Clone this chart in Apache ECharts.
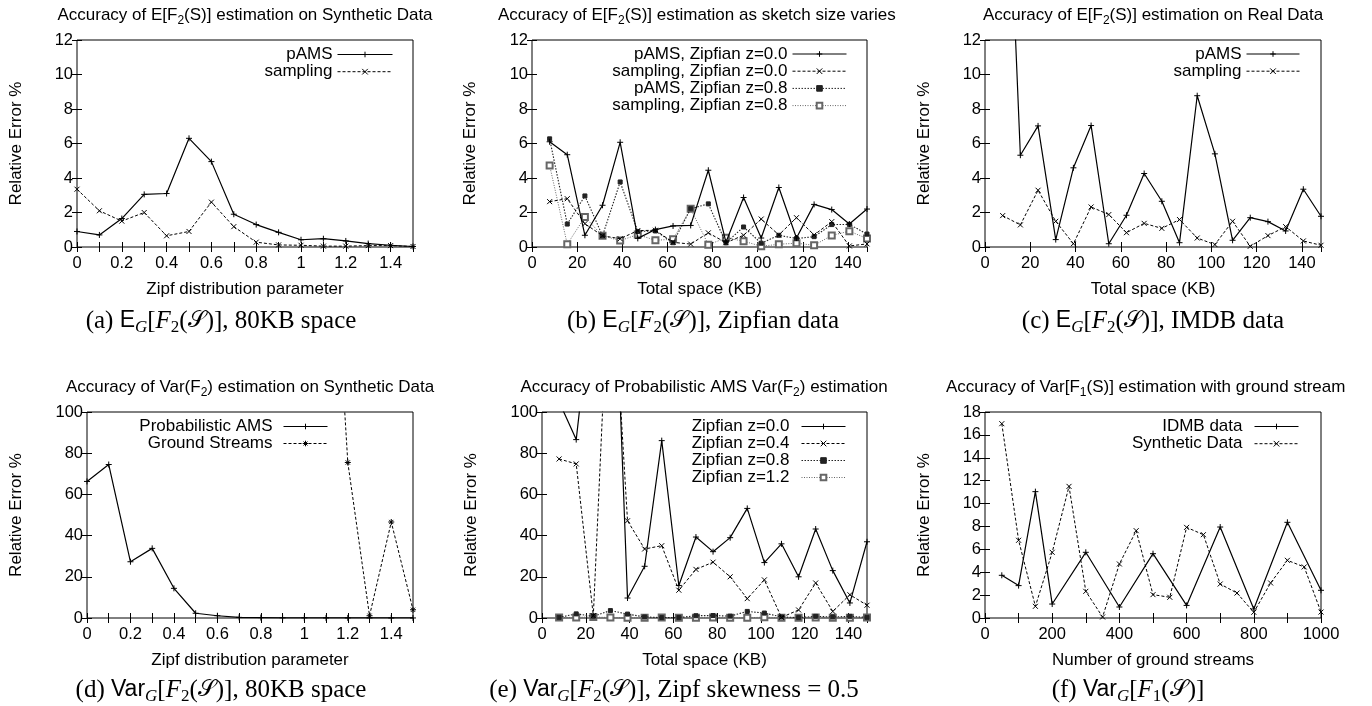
<!DOCTYPE html>
<html><head><meta charset="utf-8">
<script src="https://cdn.jsdelivr.net/npm/echarts@6/dist/echarts.min.js"></script>
<style>html,body{margin:0;padding:0;background:#fff}#c{width:1372px;height:706px}</style>
</head><body><div id="c"></div>
<script>
const SANS = '"Liberation Sans", Arial, Helvetica, sans-serif';
const SERIF = '"Liberation Serif", "Times New Roman", serif';

// ---------- data ----------
const zipfParam = [0, 0.1, 0.2, 0.3, 0.4, 0.5, 0.6, 0.7, 0.8, 0.9, 1.0, 1.1, 1.2, 1.3, 1.4, 1.5];
const spaceKB = [7.8125, 15.625, 23.4375, 31.25, 39.0625, 46.875, 54.6875, 62.5, 70.3125, 78.125,
                 85.9375, 93.75, 101.5625, 109.375, 117.1875, 125, 132.8125, 140.625, 148.4375];

// (a)
const aPAMS     = [0.9, 0.7, 1.65, 3.05, 3.1, 6.3, 4.95, 1.9, 1.3, 0.85, 0.42, 0.48, 0.35, 0.2, 0.1, 0.03];
const aSampling = [3.35, 2.1, 1.5, 2.0, 0.65, 0.9, 2.6, 1.18, 0.28, 0.12, 0.1, 0.05, 0.05, 0.08, 0.08, 0.03];
// (b)
const bPAMS00     = [6.1, 5.35, 0.68, 2.42, 6.07, 0.5, 1.01, 1.22, 1.25, 4.45, 0.28, 2.87, 0.52, 3.45, 0.52, 2.47, 2.17, 1.33, 2.2];
const bSampling00 = [2.63, 2.8, 1.35, 0.65, 0.48, 0.95, 0.97, 0.27, 0.17, 0.82, 0.25, 0.68, 1.62, 0.7, 1.7, 0.7, 1.47, 0.06, 0.18];
const bPAMS08     = [6.27, 1.33, 2.96, 0.65, 3.77, 0.9, 0.93, 0.25, 2.22, 2.5, 0.24, 1.16, 0.22, 0.68, 0.49, 0.6, 1.3, 1.31, 0.75];
const bSampling08 = [4.73, 0.16, 1.74, 0.65, 0.37, 0.72, 0.39, 0.45, 2.22, 0.13, 0.53, 0.34, 0.04, 0.16, 0.22, 0.1, 0.67, 0.92, 0.49];
// (c)
const cPAMS     = [30, 5.32, 7.02, 0.43, 4.59, 7.04, 0.19, 1.84, 4.26, 2.65, 0.25, 8.77, 5.4, 0.39, 1.7, 1.47, 0.93, 3.35, 1.78];
const cSampling = [1.82, 1.28, 3.29, 1.49, 0.19, 2.32, 1.88, 0.83, 1.37, 1.08, 1.59, 0.52, 0.14, 1.49, 0.04, 0.66, 1.18, 0.35, 0.1];
// (d)
const dProbAMS = [66.3, 74.5, 27.3, 33.8, 14.4, 2.3, 1.1, 0.3, 0.2, 0.1, 0.1, 0.05, 0.05, 0.03, 0.02, 0.02];
const dGroundX = [1.1, 1.2, 1.3, 1.4, 1.5];
const dGround  = [250, 75.5, 1.1, 46.6, 4];
// (e)
const eZ00 = [105, 86.6, 160, 230, 9.7, 25.1, 86.1, 15.8, 39.3, 32.2, 39, 53.2, 26.9, 36, 20, 43.2, 23, 7.3, 37];
const eZ04 = [77.2, 74.8, 1.1, 185, 47.2, 33.5, 35.1, 13.5, 23.6, 27.1, 20, 9.4, 18.5, 0.3, 3.9, 17, 3.2, 11.3, 6.2];
const eZ08 = [0.3, 2.0, 0.8, 3.6, 1.9, 0.5, 0.2, 0.2, 1.1, 1.2, 0.9, 3.2, 2.4, 0.5, 0.2, 0.8, 0.5, 0.8, 0.3];
const eZ12 = [0.2, 0.3, 0.5, 0.2, 0.1, 0.1, 0.2, 0.1, 0.1, 0.2, 0.1, 0.1, 0.4, 0.1, 0.1, 0.2, 0.1, 0.1, 0.2];
// (f)
const fIdmbX = [50, 100, 150, 200, 300, 400, 500, 600, 700, 800, 900, 1000];
const fIdmb  = [3.73, 2.83, 11.04, 1.22, 5.74, 0.96, 5.62, 1.1, 7.95, 0.79, 8.36, 2.42];
const fSynX  = [50, 100, 150, 200, 250, 300, 350, 400, 450, 500, 550, 600, 650, 700, 750, 800, 850, 900, 950, 1000];
const fSyn   = [16.98, 6.79, 1.02, 5.74, 11.5, 2.33, 0.09, 4.72, 7.63, 2.04, 1.81, 7.92, 7.28, 2.97, 2.18, 0.5, 3.06, 5.04, 4.46, 0.52];

// ---------- styles ----------
const PLUS = 'path://M0,5L10,5M5,0L5,10';
const CROSS = 'path://M0,0L10,10M10,0L0,10';
const STAR = 'path://M0,5L10,5M5,0L5,10M1.5,1.5L8.5,8.5M8.5,1.5L1.5,8.5';
const ST = {
  solid:  {symbol: PLUS,  size: 6, color: '#000', type: 'solid', width: 1.2},
  dashed: {symbol: CROSS, size: 5, color: '#000', type: [3, 2], width: 1},
  dashedStar: {symbol: STAR, size: 6, color: '#000', type: [3, 2], width: 1},
  dotted: {symbol: 'rect', size: 4, color: '#222', type: [1.5, 1.5], width: 1.1},
  gray:   {symbol: 'emptyRect', size: 6, color: '#666', type: [1, 1.5], width: 1}
};

function ser(name, gi, xs, ys, st, z) {
  return {
    type: 'line', name, xAxisIndex: gi * 2, yAxisIndex: gi * 2,
    data: xs.map((x, i) => [x, ys[i]]),
    symbol: st.symbol, symbolSize: st.size, showSymbol: true, showAllSymbol: true,
    lineStyle: {color: st.color, width: st.width, type: st.type},
    itemStyle: {color: st.symbol.indexOf('path') === 0 ? 'transparent' : st.color, borderColor: st.color, borderWidth: 1},
    emphasis: {disabled: true}, animation: false, clip: true, z: z || 2
  };
}

const grids = [
  {left: 77, top: 40, width: 336, height: 207},
  {left: 532, top: 40, width: 335, height: 207},
  {left: 985, top: 40, width: 336, height: 207},
  {left: 87, top: 412, width: 326, height: 206},
  {left: 542, top: 412, width: 325, height: 206},
  {left: 985, top: 412, width: 336, height: 206}
].map(g => Object.assign({show: true, borderColor: '#000', borderWidth: 1, backgroundColor: 'transparent', containLabel: false, outerBoundsMode: 'none'}, g));

const tickCfg = {show: true, inside: true, length: 5, lineStyle: {color: '#000', width: 1}};
const zipfFmt = v => (Math.round(v * 10) % 2 === 0 ? String(Math.round(v * 10) / 10) : '');
const kbFmt = v => String(v);
const gsFmt = v => (Math.round(v) % 200 === 0 ? String(Math.round(v)) : '');

function xPair(gi, min, max, interval, fmt, name, showMax) {
  const base = {type: 'value', gridIndex: gi, min, max, interval, axisLine: {show: false}, axisTick: tickCfg, splitLine: {show: false}};
  return [
    Object.assign({}, base, {position: 'bottom', name, nameLocation: 'middle', nameGap: 34,
      nameTextStyle: {color: '#000', fontSize: 17, fontFamily: SANS},
      axisLabel: {margin: 8, formatter: fmt, showMaxLabel: showMax, showMinLabel: true, color: '#000', fontSize: 16.5, fontFamily: SANS}}),
    Object.assign({}, base, {position: 'top', axisLabel: {show: false}})
  ];
}
function yPair(gi, min, max, interval, gap) {
  const base = {type: 'value', gridIndex: gi, min, max, interval, axisLine: {show: false}, axisTick: tickCfg, splitLine: {show: false}};
  return [
    Object.assign({}, base, {position: 'left', name: 'Relative Error %', nameLocation: 'middle', nameGap: gap,
      nameTextStyle: {color: '#000', fontSize: 17, fontFamily: SANS},
      axisLabel: {margin: 4, color: '#000', fontSize: 16.5, fontFamily: SANS}}),
    Object.assign({}, base, {position: 'right', axisLabel: {show: false}})
  ];
}

const xAxis = [].concat(
  xPair(0, 0, 1.5, 0.1, zipfFmt, 'Zipf distribution parameter', false),
  xPair(1, 0, 148.4375, 20, kbFmt, 'Total space (KB)', false),
  xPair(2, 0, 148.4375, 20, kbFmt, 'Total space (KB)', false),
  xPair(3, 0, 1.5, 0.1, zipfFmt, 'Zipf distribution parameter', false),
  xPair(4, 0, 148.4375, 20, kbFmt, 'Total space (KB)', false),
  xPair(5, 0, 1000, 100, gsFmt, 'Number of ground streams', true)
);
const yAxis = [].concat(
  yPair(0, 0, 12, 2, 52),
  yPair(1, 0, 12, 2, 53),
  yPair(2, 0, 12, 2, 52),
  yPair(3, 0, 100, 20, 62),
  yPair(4, 0, 100, 20, 62),
  yPair(5, 0, 18, 2, 52)
);

const series = [
  ser('pAMS', 0, zipfParam, aPAMS, ST.solid, 3),
  ser('sampling', 0, zipfParam, aSampling, ST.dashed),
  ser('pAMS, Zipfian z=0.0', 1, spaceKB, bPAMS00, ST.solid, 4),
  ser('sampling, Zipfian z=0.0', 1, spaceKB, bSampling00, ST.dashed, 3),
  ser('pAMS, Zipfian z=0.8', 1, spaceKB, bPAMS08, ST.dotted, 2),
  ser('sampling, Zipfian z=0.8', 1, spaceKB, bSampling08, ST.gray, 1),
  ser('pAMS', 2, spaceKB, cPAMS, ST.solid, 3),
  ser('sampling', 2, spaceKB, cSampling, ST.dashed),
  ser('Probabilistic AMS', 3, zipfParam, dProbAMS, ST.solid, 3),
  ser('Ground Streams', 3, dGroundX, dGround, ST.dashedStar),
  ser('Zipfian z=0.0', 4, spaceKB, eZ00, ST.solid, 4),
  ser('Zipfian z=0.4', 4, spaceKB, eZ04, ST.dashed, 3),
  ser('Zipfian z=0.8', 4, spaceKB, eZ08, ST.dotted, 2),
  ser('Zipfian z=1.2', 4, spaceKB, eZ12, ST.gray, 1),
  ser('IDMB data', 5, fIdmbX, fIdmb, ST.solid, 3),
  ser('Synthetic Data', 5, fSynX, fSyn, ST.dashed)
];

function leg(names, right, top, itemWidth, itemGap, padR) {
  return {show: true, data: names, orient: 'vertical', align: 'right', right, top, itemWidth, itemHeight: 7,
    itemGap, padding: 0, selectedMode: false,
    textStyle: {color: '#000', fontSize: 17, fontFamily: SANS, lineHeight: 14, padding: [0, padR, 0, 0]},
    lineStyle: {width: 1},
    itemStyle: {borderWidth: 1}};
}
const legend = [
  leg(['pAMS', 'sampling'], 979, 46, 55, 0.2, 0),
  leg(['pAMS, Zipfian z=0.0', 'sampling, Zipfian z=0.0', 'pAMS, Zipfian z=0.8', 'sampling, Zipfian z=0.8'], 525, 45.5, 54, 0.2, 0),
  leg(['pAMS', 'sampling'], 72, 45.5, 53, 0.2, 0),
  leg(['Probabilistic AMS', 'Ground Streams'], 1044, 418, 44, 0, 6),
  leg(['Zipfian z=0.0', 'Zipfian z=0.4', 'Zipfian z=0.8', 'Zipfian z=1.2'], 526, 418, 44, 0, 7),
  leg(['IDMB data', 'Synthetic Data'], 73, 418, 44, 0.2, 7)
];

// ---------- titles & captions ----------
const titleRich = {
  t: {fontFamily: SANS, fontSize: 17, fill: '#000', lineHeight: 24},
  s: {fontFamily: SANS, fontSize: 12, fill: '#000', lineHeight: 10, verticalAlign: 'bottom'}
};
const capRich = {
  c:  {fontFamily: SERIF, fontSize: 25, fill: '#000', lineHeight: 31},
  s:  {fontFamily: SANS, fontSize: 23, fill: '#000', lineHeight: 31},
  i:  {fontFamily: SERIF, fontSize: 25, fontStyle: 'italic', fill: '#000', lineHeight: 31},
  m:  {fontFamily: '"DejaVu Serif", "DejaVu Sans", serif', fontSize: 23, fill: '#000', lineHeight: 31},
  gi: {fontFamily: SERIF, fontSize: 17, fontStyle: 'italic', fill: '#000', lineHeight: 14, verticalAlign: 'bottom'},
  sn: {fontFamily: SERIF, fontSize: 17, fill: '#000', lineHeight: 14, verticalAlign: 'bottom'}
};
function txt(x, y, text, rich, align) {
  return {type: 'text', x, y, silent: true, z: 100,
    style: {text, rich, align: align || 'center', textAlign: align || 'center', verticalAlign: 'middle', textVerticalAlign: 'middle'}};
}
const titles = [
  txt(245, 15, '{t|Accuracy of E[F}{s|2}{t|(S)] estimation on Synthetic Data}', titleRich),
  txt(498, 15, '{t|Accuracy of E[F}{s|2}{t|(S)] estimation as sketch size varies}', titleRich, 'left'),
  txt(1153, 15, '{t|Accuracy of E[F}{s|2}{t|(S)] estimation on Real Data}', titleRich),
  txt(250, 387, '{t|Accuracy of Var(F}{s|2}{t|) estimation on Synthetic Data}', titleRich),
  txt(704, 387, '{t|Accuracy of Probabilistic AMS Var(F}{s|2}{t|) estimation}', titleRich),
  txt(946, 387, '{t|Accuracy of Var[F}{s|1}{t|(S)] estimation with ground stream}', titleRich, 'left')
];
const captions = [
  txt(221, 321, '{c|(a) }{s|E}{gi|G}{c|[}{i|F}{sn|2}{c|(}{m|𝒮}{c|)], 80KB space}', capRich),
  txt(703, 321, '{c|(b) }{s|E}{gi|G}{c|[}{i|F}{sn|2}{c|(}{m|𝒮}{c|)], Zipfian data}', capRich),
  txt(1153, 321, '{c|(c) }{s|E}{gi|G}{c|[}{i|F}{sn|2}{c|(}{m|𝒮}{c|)], IMDB data}', capRich),
  txt(221, 690, '{c|(d) }{s|Var}{gi|G}{c|[}{i|F}{sn|2}{c|(}{m|𝒮}{c|)], 80KB space}', capRich),
  txt(674, 690, '{c|(e) }{s|Var}{gi|G}{c|[}{i|F}{sn|2}{c|(}{m|𝒮}{c|)], Zipf skewness = 0.5}', capRich),
  txt(1128, 690, '{c|(f) }{s|Var}{gi|G}{c|[}{i|F}{sn|1}{c|(}{m|𝒮}{c|)]}', capRich)
];

const chart = echarts.init(document.getElementById('c'), null, {renderer: 'canvas'});
chart.setOption({
  backgroundColor: '#fff',
  animation: false,
  grid: grids,
  xAxis, yAxis, series, legend,
  tooltip: {show: false},
  graphic: titles.concat(captions)
});
</script>
</body></html>
